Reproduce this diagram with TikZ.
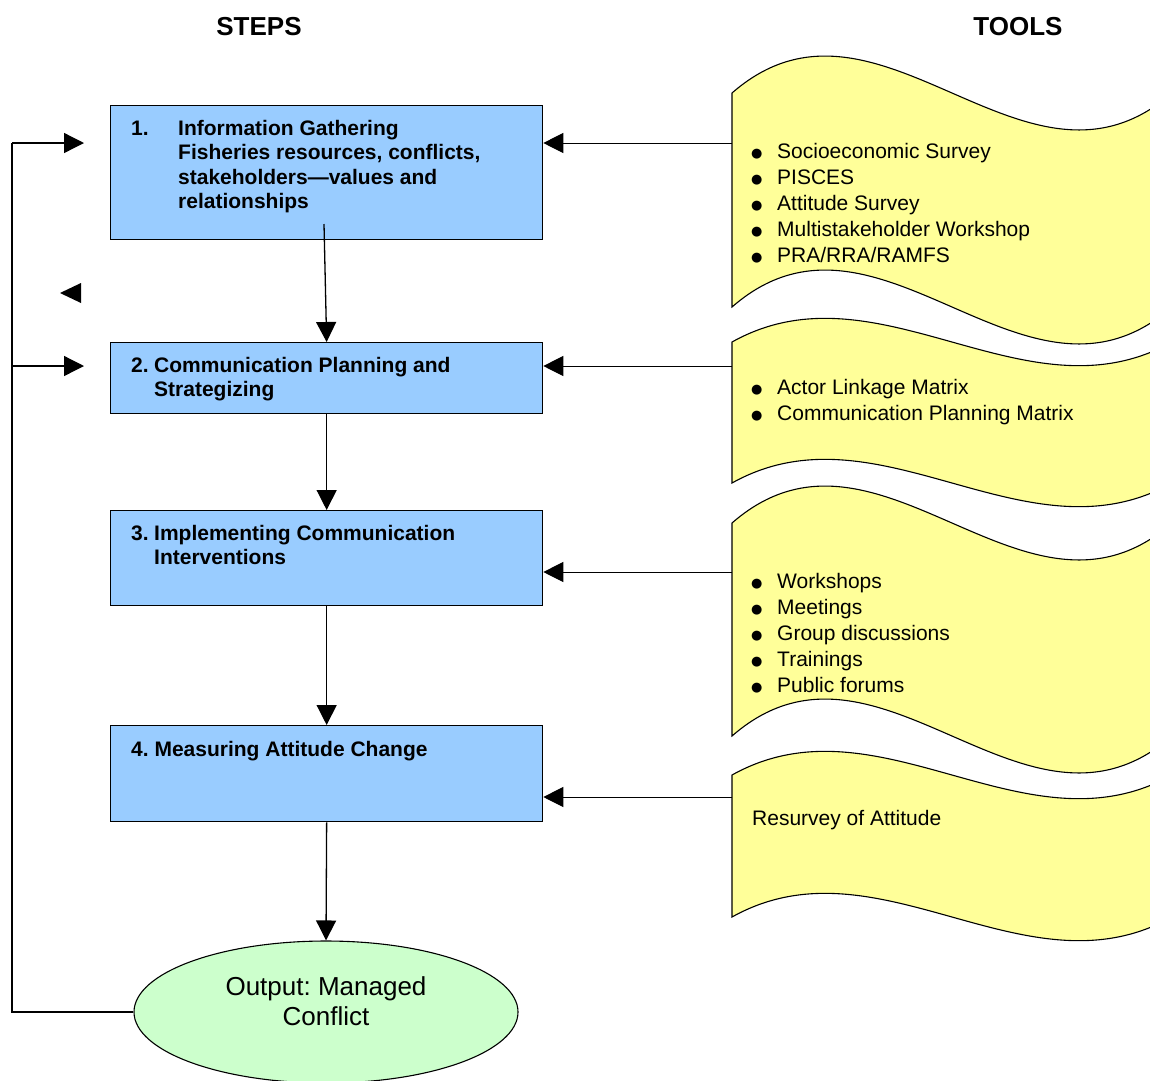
\documentclass[tikz,border=0pt]{standalone}
\usepackage{fontspec}
\setmainfont{Liberation Sans}
\newfontfamily\dejavu{DejaVu Sans}
\usetikzlibrary{arrows.meta,positioning,shapes.geometric}
\frenchspacing

\definecolor{stepblue}{HTML}{99CCFF}
\definecolor{toolyellow}{HTML}{FFFF99}
\definecolor{outgreen}{HTML}{CCFFCC}

\newcommand\blt{\raisebox{1pt}{\dejavu\fontsize{13}{13}\selectfont ●}}

\begin{document}
\begin{tikzpicture}[
    x=1pt, y=-1pt,
    stepbox/.style={draw, line width=1.3pt, fill=stepblue, minimum width=432pt, inner sep=0pt, anchor=north west},
    steptext/.style={anchor=west, inner sep=0pt, font=\fontsize{21}{24.5}\selectfont\bfseries},
    tooltext/.style={anchor=west, inner sep=0pt, font=\fontsize{21}{26}\selectfont},
    toolshape/.style={draw, line width=1.1pt, fill=toolyellow},
    head/.style={inner sep=0pt, font=\fontsize{26}{30}\selectfont\bfseries},
    outnode/.style={draw, ellipse, line width=1.1pt, fill=outgreen, minimum width=384pt, minimum height=142pt, inner sep=0pt},
    arr/.style={-{Triangle[length=20pt,width=20pt]}, line width=1.3pt},
    toolarr/.style={-{Triangle[length=20pt,width=20pt]}, line width=1pt}
  ]
    \useasboundingbox (0,0) rectangle (1150,1080);

    % Überschriften
    \node[head] (hsteps) at (259,27) {STEPS};
    \node[head] (htools) at (1018,27) {TOOLS};

    % Werkzeuge (Wellenformen)
    \def\wx{732}
    \def\ww{440}
    \foreach \top/\bot/\c/\ay [count=\i] in {93/307/128/143, 342/483/82/366, 523/736/128/572, 775/917/82/797} {
      \draw[toolshape] (\wx,\top) .. controls ({\wx+\ww/3},{\top-\c}) and ({\wx+2*\ww/3},{\top+\c}) .. ({\wx+\ww},\top)
        -- ({\wx+\ww},\bot) .. controls ({\wx+2*\ww/3},{\bot+\c}) and ({\wx+\ww/3},{\bot-\c}) .. (\wx,\bot) -- cycle;
      \coordinate (tl\i) at (\wx,\ay);
    }

    \node[tooltext] (t1) at (751,205.5) {\begin{tabular}{@{}p{26pt}@{}l@{}}
      \blt & Socioeconomic Survey\\
      \blt & PISCES\\
      \blt & Attitude Survey\\
      \blt & Multistakeholder Workshop\\
      \blt & PRA/RRA/RAMFS
    \end{tabular}};
    \node[tooltext] (t2) at (751,402) {\begin{tabular}{@{}p{26pt}@{}l@{}}
      \blt & Actor Linkage Matrix\\
      \blt & Communication Planning Matrix
    \end{tabular}};
    \node[tooltext] (t3) at (751,635) {\begin{tabular}{@{}p{26pt}@{}l@{}}
      \blt & Workshops\\
      \blt & Meetings\\
      \blt & Group discussions\\
      \blt & Trainings\\
      \blt & Public forums
    \end{tabular}};
    \node[tooltext] (t4) at (752,820) {Resurvey of Attitude};

    % Schritte
    \node[stepbox, minimum height=134pt] (s1) at (110,105) {};
    \node[stepbox, minimum height=71pt] (s2) at (110,342) {};
    \node[stepbox, minimum height=95pt] (s3) at (110,510) {};
    \node[stepbox, minimum height=96pt] (s4) at (110,725) {};

    \node[steptext] (s1txt) at (131,167) {\begin{tabular}{@{}p{47pt}@{}l@{}}
      1. & Information Gathering\\
         & Fisheries resources, conflicts,\\
         & stakeholders---values and\\
         & relationships
    \end{tabular}};
    \node[steptext] (s2txt) at (131,379.5) {\begin{tabular}{@{}p{23pt}@{}l@{}}
      2. & Communication Planning and\\
         & Strategizing
    \end{tabular}};
    \node[steptext] (s3txt) at (131,547.5) {\begin{tabular}{@{}p{23pt}@{}l@{}}
      3. & Implementing Communication\\
         & Interventions
    \end{tabular}};
    \node[steptext] (s4txt) at (131,751) {4. Measuring Attitude Change};

    % Ergebnis
    \node[outnode] (out) at (326,1012) {};
    \node[inner sep=0pt, align=center, font=\fontsize{26}{30}\selectfont] (outtxt)
      at ([yshift=11pt]out.center) {Output: Managed\\Conflict};

    % Pfeile zwischen den Schritten
    \coordinate (s1in) at (324,224);
    \draw[arr] (s1in) -- (s2.north);
    \draw[arr] (s2.south) -- (s3.north);
    \draw[arr] (s3.south) -- (s4.north);
    \draw[arr] (s4.south) -- (out.north);

    % Werkzeuge -> Schritte
    \foreach \i in {1,...,4} {
      \draw[toolarr] (tl\i) -- (tl\i -| s\i.east);
    }

    % Rückkopplung
    \coordinate (fb1) at (12,143);
    \coordinate (fb2) at (12,366);
    \coordinate (fb1e) at (84,143);
    \coordinate (fb2e) at (84,366);
    \draw[line width=1.3pt] (out.west) -| (fb1);
    \draw[arr] (fb1) -- (fb1e);
    \draw[arr] (fb2) -- (fb2e);

    % einzelne Pfeilspitze
    \coordinate (stray) at (60,293);
    \fill (stray) -- ++(21,-10) -- ++(0,20) -- cycle;
  \end{tikzpicture}
\end{document}
